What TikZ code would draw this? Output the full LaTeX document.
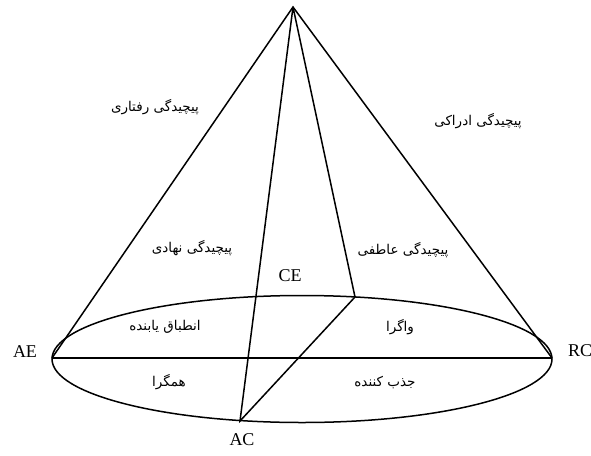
\documentclass[tikz,border=0pt]{standalone}
\usepackage{fontspec}
\setmainfont{Liberation Serif}
\newfontfamily\farsi[Script=Arabic]{DejaVu Sans}
\TeXXeTstate=1

\begin{document}
\begin{tikzpicture}[x=1pt,y=-1pt,line width=1.5pt,
  tag/.style={font=\fontsize{18}{18}\selectfont},
  fa/.style={font=\farsi\fontsize{13.5}{15}\selectfont}]
\useasboundingbox (0,0) rectangle (591,455);
% corners of the cone
\coordinate (apex) at (293,7);
\coordinate (ae) at (52,358);
\coordinate (rc) at (552,358);
\coordinate (acb) at (240,421);
\coordinate (cep) at (355,297);
\draw (302,359) ellipse [x radius=250pt, y radius=63.5pt];
\draw (ae) -- (apex) -- (rc);
\draw (ae) -- (rc);
\draw (apex) -- (acb) -- (cep) -- (apex);
% letters
\node[tag] (lae) at (25,352) {AE};
\node[tag] (lrc) at (580,351) {RC};
\node[tag] (lce) at (290,276) {CE};
\node[tag] (lac) at (242,440) {AC};
% persian labels
\node[fa] (beh) at (155,107) {\beginR پیچیدگی رفتاری\endR};
\node[fa] (per) at (478,121) {\beginR پیچیدگی ادراکی\endR};
\node[fa] (ins) at (192,248) {\beginR پیچیدگی نهادی\endR};
\node[fa] (emo) at (403,250) {\beginR پیچیدگی عاطفی\endR};
\node[fa] (acm) at (165,327) {\beginR انطباق یابنده\endR};
\node[fa] (div) at (400,327) {\beginR واگرا\endR};
\node[fa] (con) at (169,382) {\beginR همگرا\endR};
\node[fa] (asm) at (385,383) {\beginR جذب کننده\endR};
\end{tikzpicture}
\end{document}
